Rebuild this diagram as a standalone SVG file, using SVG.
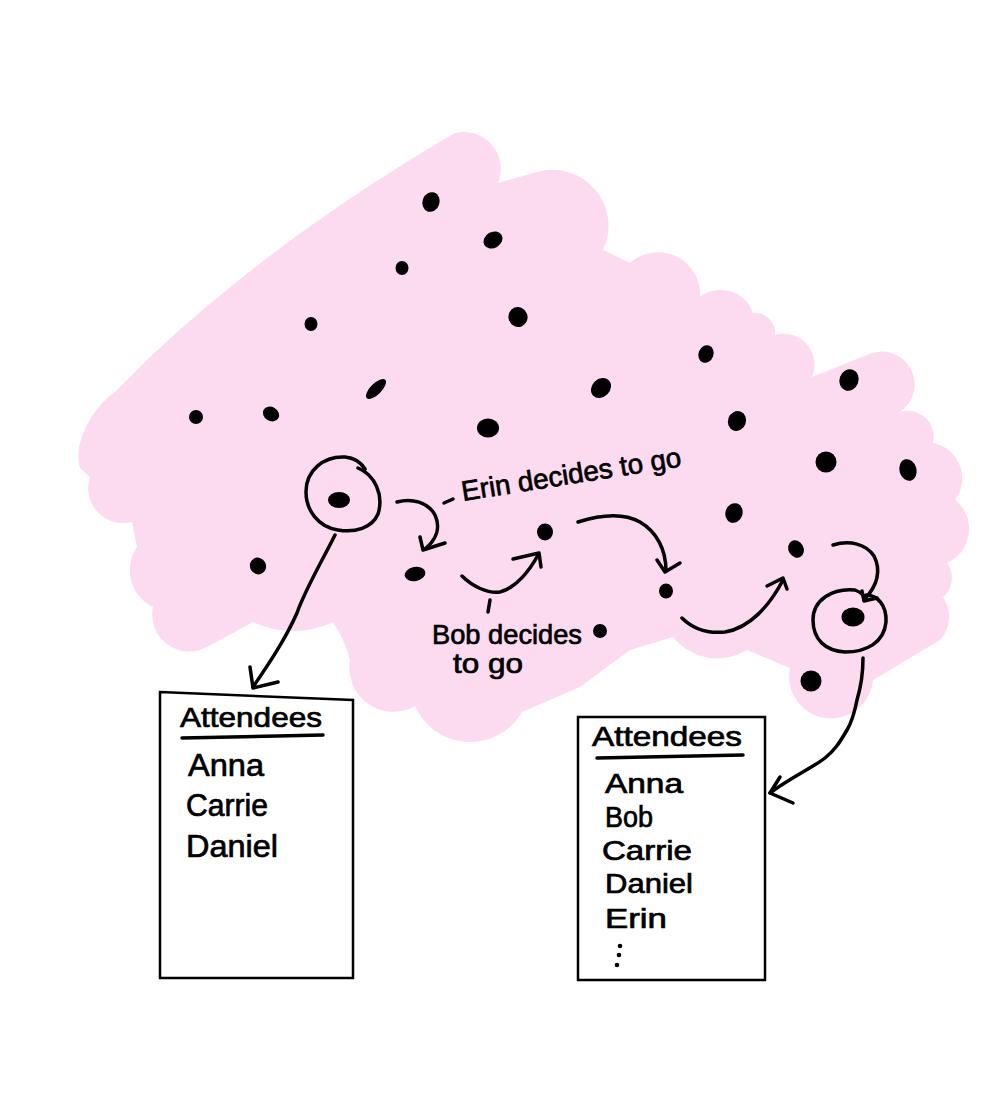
<svg xmlns="http://www.w3.org/2000/svg" width="1000" height="1106" viewBox="0 0 1000 1106">
<style>
.ink{fill:none;stroke:#000;stroke-width:3.5;stroke-linecap:round;stroke-linejoin:round}
.box{fill:#fff;stroke:#000;stroke-width:2.5}
.dot{fill:#000}
.hand{font-family:"Liberation Sans","Open Sans",sans-serif;fill:#000;stroke:#000;stroke-width:0.7}
</style>
<rect width="1000" height="1106" fill="#fff"/>
<g id="cloud">
<path fill="#FCDAF0" d="M147 360 C220 290 330 205 455 133 A37 37 0 0 1 498 183 L537 172 A56 56 0 0 1 603 250 L630 263 A42 42 0 0 1 700 297 A34 34 0 0 1 753 313 A20 20 0 0 1 775 335 A31 31 0 0 1 812 377 L867 355 A33 33 0 0 1 900 412 A26 26 0 0 1 933 443 A36 36 0 0 1 955 500 A37 37 0 0 1 947 563 A25 25 0 0 1 943 597 A35 35 0 0 1 940 640 L873 680 A42 42 0 1 1 790 668 L747 650 A57 57 0 0 1 673 637 L630 650 L580 687 L522 712 A60 60 0 0 1 415 706 A44 44 0 0 1 350 660 Q345 640 333 622 A93 93 0 0 1 253 622 L207 647 A37 37 0 0 1 153 607 A41 41 0 0 1 137 547 L132 522 A35 35 0 0 1 90 477 L80 468 C72 440 96 405 115 392 Z"/>
</g>
<g id="dots">
<ellipse class="dot" cx="431" cy="202" rx="8.5" ry="10" transform="rotate(20 431 202)"/>
<ellipse class="dot" cx="493" cy="240" rx="10" ry="8" transform="rotate(-30 493 240)"/>
<ellipse class="dot" cx="402" cy="268" rx="6.5" ry="7"/>
<ellipse class="dot" cx="311" cy="324" rx="6.5" ry="7"/>
<ellipse class="dot" cx="518" cy="317" rx="9.5" ry="10" transform="rotate(-20 518 317)"/>
<ellipse class="dot" cx="706" cy="354" rx="7.5" ry="9" transform="rotate(20 706 354)"/>
<ellipse class="dot" cx="376" cy="389" rx="13" ry="5.5" transform="rotate(-45 376 389)"/>
<ellipse class="dot" cx="601" cy="388" rx="11" ry="9" transform="rotate(-45 601 388)"/>
<ellipse class="dot" cx="196" cy="417" rx="7" ry="7"/>
<ellipse class="dot" cx="271" cy="414" rx="8.5" ry="7" transform="rotate(30 271 414)"/>
<ellipse class="dot" cx="488" cy="428" rx="11" ry="9.5"/>
<ellipse class="dot" cx="737" cy="421" rx="9" ry="10" transform="rotate(20 737 421)"/>
<ellipse class="dot" cx="849" cy="380" rx="9.5" ry="11" transform="rotate(20 849 380)"/>
<ellipse class="dot" cx="826" cy="462" rx="10.5" ry="10.5"/>
<ellipse class="dot" cx="908" cy="470" rx="8.5" ry="11" transform="rotate(-15 908 470)"/>
<ellipse class="dot" cx="339" cy="500" rx="11" ry="8"/>
<ellipse class="dot" cx="734" cy="513" rx="8.5" ry="10" transform="rotate(20 734 513)"/>
<ellipse class="dot" cx="545" cy="532" rx="8" ry="8.5"/>
<ellipse class="dot" cx="415" cy="574" rx="10.5" ry="7" transform="rotate(-10 415 574)"/>
<ellipse class="dot" cx="258" cy="566" rx="8" ry="8.5" transform="rotate(-30 258 566)"/>
<ellipse class="dot" cx="666" cy="591" rx="7" ry="7.5"/>
<ellipse class="dot" cx="796" cy="549" rx="7.5" ry="9" transform="rotate(-30 796 549)"/>
<ellipse class="dot" cx="853" cy="617" rx="11.5" ry="9.5"/>
<ellipse class="dot" cx="600" cy="631" rx="7" ry="7"/>
<ellipse class="dot" cx="811" cy="681" rx="10.5" ry="10.5"/>
</g>
<g id="circle-left">
<path class="ink" d="M358 468 C375 475 384 495 378 514 C372 528 355 533 338 530 C318 527 306 510 306 492 C306 470 324 456 345 457 C356 458 362 464 365 469"/>
</g>
<g id="circle-right">
<path class="ink" d="M866 595 C877 595 887 605 886 622 C884 643 866 652 845 652 C826 651 813 640 813 620 C813 600 832 588 855 590 C860 592 865 596 866 600"/>
</g>
<g id="box-before">
<path class="box" d="M160 692 L353 700 L353 978 L160 978 Z"/>
<text class="hand" x="180" y="727" font-size="28" textLength="142" lengthAdjust="spacingAndGlyphs">Attendees</text>
<path class="ink" d="M182 738 L323 735" stroke-width="4"/>
<text class="hand" x="188" y="776" font-size="31" textLength="76" lengthAdjust="spacingAndGlyphs">Anna</text>
<text class="hand" x="186" y="816" font-size="31" textLength="82" lengthAdjust="spacingAndGlyphs">Carrie</text>
<text class="hand" x="186" y="857" font-size="31" textLength="92" lengthAdjust="spacingAndGlyphs">Daniel</text>
</g>
<g id="box-after">
<rect class="box" x="578" y="717" width="187" height="263"/>
<text class="hand" x="592" y="746" font-size="28" textLength="150" lengthAdjust="spacingAndGlyphs">Attendees</text>
<path class="ink" d="M597 758 L743 755" stroke-width="4"/>
<text class="hand" x="605" y="793" font-size="27" textLength="78" lengthAdjust="spacingAndGlyphs">Anna</text>
<text class="hand" x="605" y="827" font-size="29" textLength="48" lengthAdjust="spacingAndGlyphs">Bob</text>
<text class="hand" x="602" y="860" font-size="27" textLength="90" lengthAdjust="spacingAndGlyphs">Carrie</text>
<text class="hand" x="605" y="893" font-size="27" textLength="88" lengthAdjust="spacingAndGlyphs">Daniel</text>
<text class="hand" x="605" y="928" font-size="27" textLength="62" lengthAdjust="spacingAndGlyphs">Erin</text>
<circle class="dot" cx="620" cy="946" r="2.3"/>
<circle class="dot" cx="619" cy="955" r="2.3"/>
<circle class="dot" cx="617" cy="965" r="2.3"/>
</g>
<g id="labels">
<path class="ink" d="M444 503 L453 499" stroke-width="3"/>
<text class="hand" x="463" y="501" font-size="28" textLength="222" lengthAdjust="spacingAndGlyphs" transform="rotate(-9 463 501)">Erin decides to go</text>
<path class="ink" d="M490 600 L488 612" stroke-width="3"/>
<text class="hand" x="432" y="644" font-size="28" textLength="150" lengthAdjust="spacingAndGlyphs">Bob decides</text>
<text class="hand" x="453" y="673" font-size="28" textLength="70" lengthAdjust="spacingAndGlyphs">to go</text>
</g>
<g id="connectors">
<path class="ink" d="M335 535 C320 565 305 590 297 613 C285 640 268 665 253 687"/>
<path class="ink" d="M250 667 L253 688 L278 682"/>
<path class="ink" d="M397 502 C412 498 428 502 435 515 C441 528 436 540 425 549"/>
<path class="ink" d="M420 537 L423 550 L445 543"/>
<path class="ink" d="M462 576 C472 586 488 594 500 592 C516 588 530 570 538 555"/>
<path class="ink" d="M513 559 L539 553 L541 567"/>
<path class="ink" d="M578 522 C600 515 622 512 640 522 C657 532 666 550 666 571"/>
<path class="ink" d="M657 560 L665 572 L680 563"/>
<path class="ink" d="M682 618 C692 628 705 634 725 632 C750 628 770 605 783 580"/>
<path class="ink" d="M767 586 L783 578 L787 589"/>
<path class="ink" d="M833 545 C850 540 866 544 874 556 C881 570 878 585 864 600"/>
<path class="ink" d="M862 591 L864 601 L877 598"/>
<path class="ink" d="M863 658 C863 675 860 690 857 700 C854 715 852 722 847 730 C840 742 835 750 825 758 C812 768 790 778 770 793"/>
<path class="ink" d="M780 777 L770 793 L793 803"/>
</g>
</svg>
